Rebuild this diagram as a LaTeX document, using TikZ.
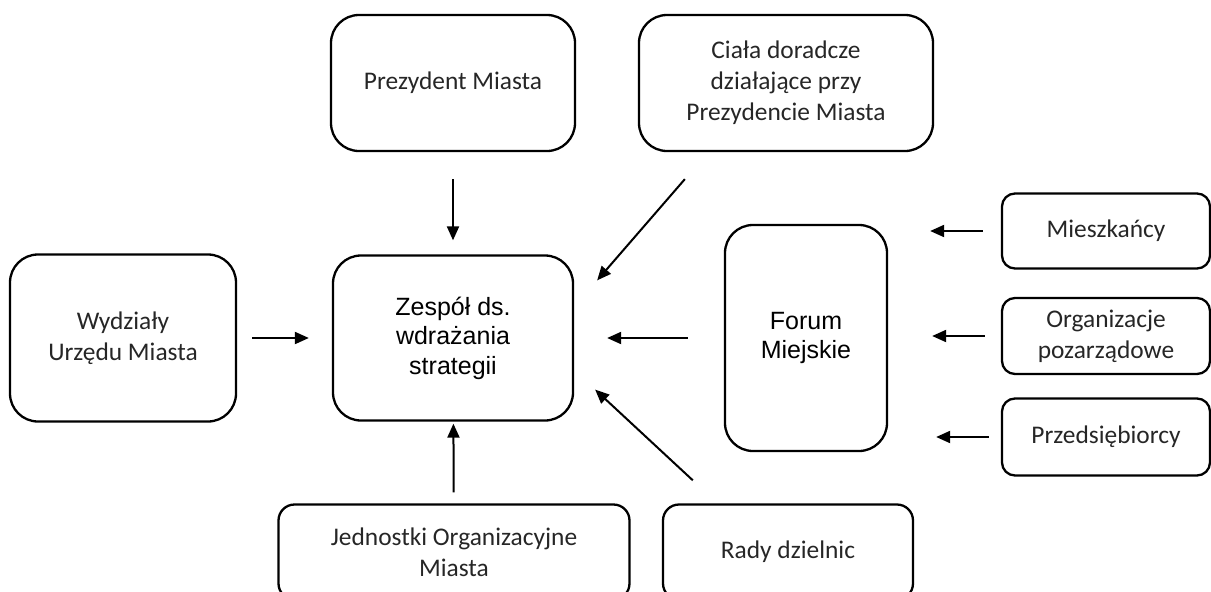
\documentclass[tikz,border=0pt]{standalone}
\usepackage{fontspec}
\setmainfont{Carlito}
\newfontfamily\arialfont{Liberation Sans}
\usetikzlibrary{arrows.meta,positioning}

\begin{document}
\begin{tikzpicture}[x=1pt,y=-1pt,
    block/.style={draw, line width=2.3pt, rounded corners=28pt, align=center, inner sep=0pt, text=black!85, font=\fontsize{25.4}{31}\selectfont},
    small/.style={block, rounded corners=13pt},
    arial/.style={font=\arialfont\fontsize{25}{29.5}\selectfont, text=black},
    arr/.style={-{Triangle[length=14pt,width=12pt]}, line width=2pt}]
\useasboundingbox (0,0) rectangle (1211,592);
\clip (0,0) rectangle (1211,592);
                        \node[block, minimum width=244pt, minimum height=136pt] (prez) at (453, 83) {Prezydent Miasta};
                        \node[block, minimum width=294pt, minimum height=136pt] (ciala) at (786, 83) {Ciała doradcze\\działające przy\\Prezydencie Miasta};
                        \node[block, minimum width=226pt, minimum height=167pt] (wydz) at (123, 338) {Wydziały\\Urzędu Miasta};
                        \node[block, arial, minimum width=240pt, minimum height=165pt] (zesp) at (453, 338) {Zespół ds.\\wdrażania\\strategii};
                        \node[block, arial, minimum width=162pt, minimum height=226pt] (forum) at (806, 338) {Forum\\Miejskie};
                        \node[small, minimum width=208pt, minimum height=75pt] (miesz) at (1106, 231) {Mieszkańcy};
                        \node[small, minimum width=208pt, minimum height=76pt] (org) at (1106, 336) {Organizacje\\pozarządowe};
                        \node[small, minimum width=208pt, minimum height=77pt] (przed) at (1106, 437) {Przedsiębiorcy};
                        \node[block, rounded corners=16pt, minimum width=351pt, minimum height=95pt] (jedn) at (454, 552) {Jednostki Organizacyjne\\Miasta};
                        \node[block, rounded corners=16pt, minimum width=250pt, minimum height=95pt] (rady) at (788, 552) {Rady dzielnic};
                        \draw [arr, shorten <=27pt, shorten >=14pt] (prez) -- (zesp);
                        \draw [arr, shorten <=15pt, shorten >=23pt] (wydz) -- (zesp);
                        \draw [arr, shorten <=36pt, shorten >=33pt] (forum) -- (zesp);
                        \draw [arr, shorten <=11pt, shorten >=2pt] (jedn) -- (zesp);
                        \draw [arr] ([shift={(47,27)}]ciala.south west) -- ([shift={(23,26)}]zesp.north east);
                        \draw [arr] ([shift={(31,-23)}]rady.north west) -- ([shift={(21,-32)}]zesp.south east);
                        \draw [arr, shorten <=18pt, shorten >=42pt] (miesz.west) -- (miesz.west -| forum.east);
                        \draw [arr, shorten <=16pt, shorten >=44pt] (org.west) -- (org.west -| forum.east);
                        \draw [arr, shorten <=12pt, shorten >=48pt] (przed.west) -- (przed.west -| forum.east);
\end{tikzpicture}
\end{document}
